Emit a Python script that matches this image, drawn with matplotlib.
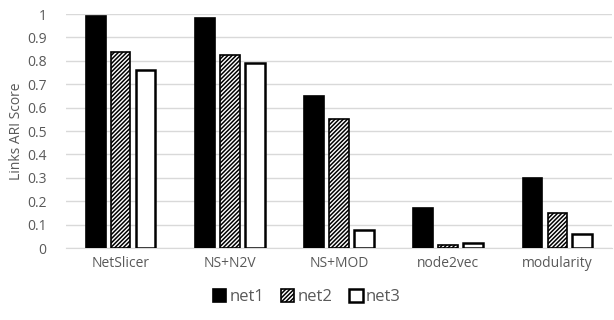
import numpy as np
import matplotlib.pyplot as plt
import matplotlib as mpl

mpl.rcParams['hatch.linewidth'] = 1.1
plt.rcParams['font.family'] = ['Open Sans', 'DejaVu Sans']

methods = ["NetSlicer", "NS+N2V", "NS+MOD", "node2vec", "modularity"]
net1 = [0.99, 0.985, 0.65, 0.17, 0.30]
net2 = [0.84, 0.825, 0.55, 0.012, 0.15]
net3 = [0.76, 0.79, 0.075, 0.02, 0.06]

fig = plt.figure(figsize=(6.14, 3.2), dpi=100)
ax = fig.add_axes([66/614, 0.225, 546/614, 0.731])

x = np.arange(len(methods))
w = 0.18
step = 0.228
txt = '#595959'

ax.bar(x - step, net1, w, color='black', edgecolor='black', linewidth=1.2, label='net1', zorder=3)
ax.bar(x, net2, w, color='white', edgecolor='black', hatch='////////', linewidth=1.2, label='net2', zorder=3)
ax.bar(x + step, net3, w, color='white', edgecolor='black', linewidth=1.8, label='net3', zorder=3)

ax.set_xlim(-0.5, len(methods) - 0.5)
ax.set_ylim(0, 1)
ax.set_yticks(np.arange(0, 1.01, 0.1))
ax.set_yticklabels(['0', '0.1', '0.2', '0.3', '0.4', '0.5', '0.6', '0.7', '0.8', '0.9', '1'])
ax.set_xticks(x)
ax.set_xticklabels(methods)
ax.tick_params(axis='both', length=0, labelsize=10, colors=txt, pad=6)
ax.tick_params(axis='y', pad=14)
ax.grid(axis='y', color='#d9d9d9', linewidth=1, zorder=0)
for s in ['top', 'right', 'left']:
    ax.spines[s].set_visible(False)
ax.spines['bottom'].set_color('#d9d9d9')
ax.set_ylabel('Links ARI Score', color=txt, fontsize=10, labelpad=2)

leg = fig.legend(loc='lower center', bbox_to_anchor=(0.5, 0.0), ncol=3, frameon=False,
                 fontsize=12, handlelength=0.8, handleheight=0.8, handletextpad=0.2,
                 columnspacing=1.0, labelcolor=txt)

fig.savefig('out.png', dpi=100)
